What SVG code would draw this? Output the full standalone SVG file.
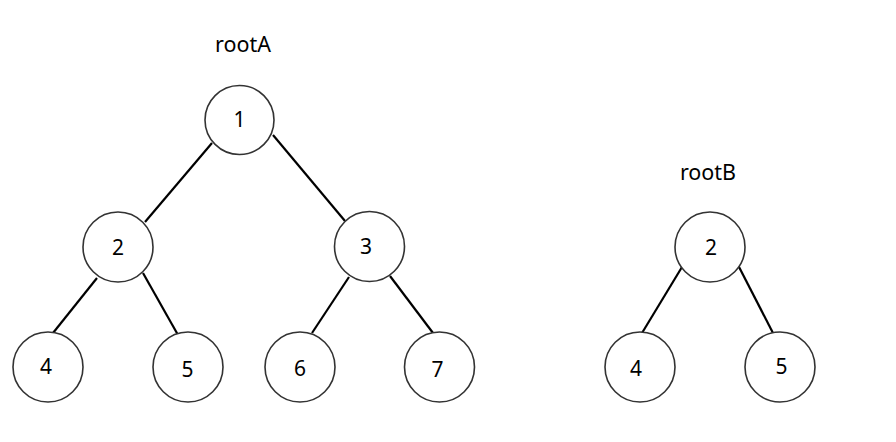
<svg xmlns="http://www.w3.org/2000/svg" width="896" height="442" viewBox="0 0 896 442">
<style>
.n{fill:#fff;stroke:#333;stroke-width:1.6}
.t{font-family:"Noto Sans","Open Sans",sans-serif;font-size:21px;fill:#000;text-anchor:middle}
.l{font-family:"Noto Sans","Open Sans",sans-serif;font-size:21.5px;fill:#000;text-anchor:middle}
.e{stroke:#000;stroke-width:2.2;fill:none}
</style>
<rect width="896" height="442" fill="#fff"/>
<text class="l" x="243" y="52">rootA</text>
<text class="l" x="708" y="180">rootB</text>
<g id="edges">
<line class="e" x1="212" y1="143" x2="145" y2="222"/>
<line class="e" x1="273" y1="135" x2="345" y2="221"/>
<line class="e" x1="97" y1="278" x2="53" y2="333"/>
<line class="e" x1="143" y1="273" x2="178" y2="335"/>
<line class="e" x1="349" y1="277" x2="312" y2="333"/>
<line class="e" x1="390" y1="276" x2="433" y2="333"/>
<line class="e" x1="682" y1="267" x2="642" y2="333"/>
<line class="e" x1="738" y1="265" x2="773" y2="333"/>
</g>
<g id="a1"><circle class="n" cx="239.5" cy="120" r="34.5"/><text class="t" x="239.5" y="127">1</text></g>
<g id="a2"><circle class="n" cx="118" cy="247" r="35"/><text class="t" x="118" y="255">2</text></g>
<g id="a3"><circle class="n" cx="369.5" cy="246.5" r="35"/><text class="t" x="366" y="254">3</text></g>
<g id="a4"><circle class="n" cx="48" cy="367" r="35"/><text class="t" x="46" y="374">4</text></g>
<g id="a5"><circle class="n" cx="188" cy="367" r="35"/><text class="t" x="187.5" y="377">5</text></g>
<g id="a6"><circle class="n" cx="300" cy="367" r="35"/><text class="t" x="300" y="376">6</text></g>
<g id="a7"><circle class="n" cx="439.5" cy="367" r="35"/><text class="t" x="437.5" y="377">7</text></g>
<g id="b2"><circle class="n" cx="710" cy="247" r="35"/><text class="t" x="711" y="255">2</text></g>
<g id="b4"><circle class="n" cx="640" cy="367" r="35"/><text class="t" x="636" y="376">4</text></g>
<g id="b5"><circle class="n" cx="780" cy="367" r="35"/><text class="t" x="781.5" y="374">5</text></g>
</svg>
